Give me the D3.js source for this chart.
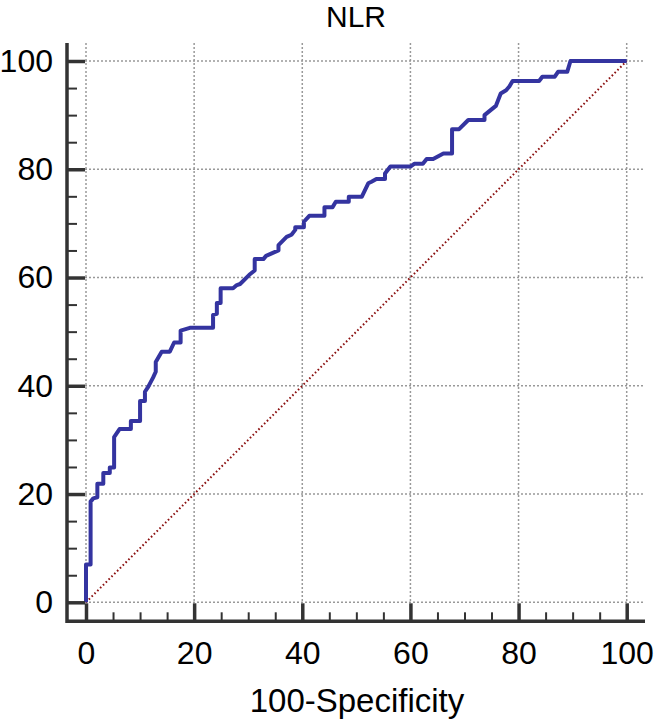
<!DOCTYPE html>
<html>
<head>
<meta charset="utf-8">
<script src="https://cdn.jsdelivr.net/npm/d3@7"></script>
<style>
  body { margin: 0; background: #fff; }
  text { font-family: "Liberation Sans", Arial, sans-serif; fill: #000; }
</style>
</head>
<body>
<div id="wrapper"></div>
<script>
// ROC curve points (100-Specificity, Sensitivity)
const fpr = [0, 0, 0.85, 0.85, 1.35, 2.1, 2.1, 3.2, 3.2, 4.4, 4.4, 5.2, 5.2, 6.2, 8.3, 8.3, 10.0, 10.0, 10.9, 10.9,
  11.5, 12.4, 12.9, 12.9, 14.0, 15.5, 16.3, 17.5, 17.5, 19.2, 23.5, 23.5, 24.2, 24.2, 24.9, 24.9, 27.2, 27.9, 28.5, 30.2,
  31.2, 31.2, 32.8, 33.3, 35.6, 35.6, 37.1, 38.0, 38.7, 38.7, 40.3, 40.3, 41.3, 44.1, 44.1, 45.6, 46.2, 48.6, 48.6, 51.0,
  52.2, 52.8, 53.7, 55.3, 55.3, 56.3, 60.0, 60.7, 62.3, 63.0, 64.2, 66.1, 67.7, 67.7, 69.0, 70.7, 73.7, 73.7, 75.8, 76.7,
  77.7, 78.3, 78.9, 83.8, 84.4, 86.7, 87.3, 89.0, 89.6, 100];
const tpr = [0, 7.0, 7.0, 18.6, 19.2, 19.4, 21.9, 21.9, 23.9, 23.9, 24.9, 24.9, 30.5, 32.0, 32.0, 33.5, 33.5, 37.2, 37.2, 38.9,
  39.8, 41.5, 42.6, 44.4, 46.3, 46.3, 48.0, 48.0, 50.2, 50.7, 50.7, 53.1, 53.3, 55.3, 55.3, 58.0, 58.0, 58.6, 58.8, 60.5,
  61.3, 63.4, 63.4, 64.0, 65.0, 66.0, 67.5, 67.9, 68.8, 69.3, 69.3, 70.3, 71.4, 71.4, 73.0, 73.0, 74.0, 74.0, 74.9, 74.9,
  77.4, 77.7, 78.2, 78.2, 79.2, 80.5, 80.5, 81.0, 81.0, 81.9, 81.9, 82.9, 82.9, 87.4, 87.4, 89.1, 89.1, 90.0, 91.7, 94.0,
  94.6, 95.3, 96.3, 96.3, 97.1, 97.1, 98.0, 98.0, 100, 100];
const majorTicks = [0, 20, 40, 60, 80, 100];
const minorTicks = [5, 10, 15, 25, 30, 35, 45, 50, 55, 65, 70, 75, 85, 90, 95];
const chartTitle = "NLR";
const xTitle = "100-Specificity";

const rocData = fpr.map((d, i) => ({ x: d, y: tpr[i] }));
const diagonal = [{ x: 0, y: 0 }, { x: 100, y: 100 }];

const width = 656, height = 722;
const axisGap = 19;

const svg = d3.select("#wrapper").append("svg")
  .attr("width", width)
  .attr("height", height);

const xScale = d3.scaleLinear().domain([0, 100]).range([86, 626.7]);
const yScale = d3.scaleLinear().domain([0, 100]).range([602.3, 61]);

const axisX = xScale(0) - axisGap;   // left axis line
const axisY = yScale(0) + axisGap;   // bottom axis line
const topEnd = 43, rightEnd = 645;

// grid
const grid = svg.append("g")
  .attr("stroke", "#999")
  .attr("stroke-width", 1.5)
  .attr("stroke-dasharray", "2,2");
grid.selectAll(".vgrid").data(majorTicks).join("line")
  .attr("x1", d => xScale(d)).attr("x2", d => xScale(d))
  .attr("y1", topEnd).attr("y2", yScale(0));
grid.selectAll(".hgrid").data(majorTicks).join("line")
  .attr("class", "hgrid")
  .attr("x1", xScale(0) - 1).attr("x2", rightEnd)
  .attr("y1", d => yScale(d)).attr("y2", d => yScale(d));

// reference diagonal
const line = d3.line().x(d => xScale(d.x)).y(d => yScale(d.y));
svg.append("path")
  .attr("d", line(diagonal))
  .attr("fill", "none")
  .attr("stroke", "#8b1010")
  .attr("stroke-width", 2)
  .attr("stroke-dasharray", "1.6,2.4");

// ROC curve
svg.append("path")
  .attr("d", line(rocData))
  .attr("fill", "none")
  .attr("stroke", "#3434a0")
  .attr("stroke-width", 4)
  .attr("stroke-linejoin", "round");

// axes (ticks pointing inward)
const yMajor = d3.axisLeft(yScale).tickValues(majorTicks).tickSize(-18).tickPadding(14);
const yMinor = d3.axisLeft(yScale).tickValues(minorTicks).tickSize(-10).tickFormat("");
const xMajor = d3.axisBottom(xScale).tickValues(majorTicks).tickSize(-18).tickPadding(20);
const xMinor = d3.axisBottom(xScale).tickValues(minorTicks).tickSize(-9).tickFormat("");

function styleAxis(g, w) {
  g.select(".domain").remove();
  g.selectAll(".tick line").attr("stroke", "#333").attr("stroke-width", w);
  g.selectAll(".tick text").style("font-size", "32px").attr("fill", "#000");
}

svg.append("g").attr("transform", `translate(${axisX},0)`).call(yMinor).call(g => styleAxis(g, 2));
svg.append("g").attr("transform", `translate(${axisX},0)`).call(yMajor).call(g => styleAxis(g, 3.5));
svg.append("g").attr("transform", `translate(0,${axisY})`).call(xMinor).call(g => styleAxis(g, 2));
svg.append("g").attr("transform", `translate(0,${axisY})`).call(xMajor).call(g => styleAxis(g, 3.5));

svg.selectAll(".tick text").attr("font-family", null);

// axis lines
svg.append("path")
  .attr("d", `M${axisX},${topEnd}V${axisY}H${rightEnd}`)
  .attr("fill", "none")
  .attr("stroke", "#333")
  .attr("stroke-width", 3.5);

// titles
svg.append("text")
  .attr("x", 356).attr("y", 27)
  .attr("text-anchor", "middle")
  .style("font-size", "30px")
  .text(chartTitle);

svg.append("text")
  .attr("x", 357).attr("y", 712)
  .attr("text-anchor", "middle")
  .style("font-size", "33px")
  .text(xTitle);
</script>
</body>
</html>
